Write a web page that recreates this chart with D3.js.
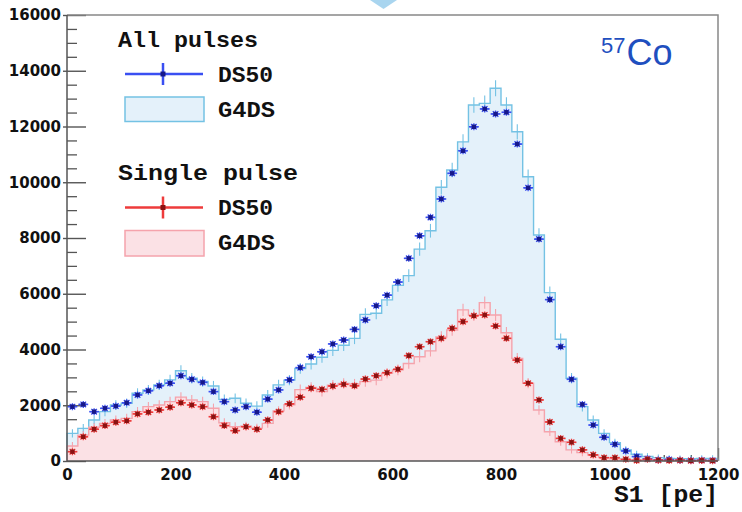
<!DOCTYPE html>
<html>
<head>
<meta charset="utf-8">
<script src="https://cdn.jsdelivr.net/npm/d3@7"></script>
<style>body{margin:0;background:#fff}</style>
</head>
<body>
<div id="chart"></div>
<script>
'use strict';

// 60 bins of 20 pe, low edges
const binLow = d3.range(0, 1200, 20);

const ds50All = [1950, 2030, 1770, 1890, 1970, 2090, 2370, 2520, 2700, 2790,
  3060, 2930, 2820, 2490, 2130, 1830, 1950, 1750, 2220, 2550,
  2910, 3350, 3740, 3920, 4200, 4340, 4720, 5060, 5570, 5950,
  6420, 7270, 8080, 8740, 9400, 10320, 11130, 11990, 12630, 12450,
  12510, 11370, 9800, 7960, 5790, 4100, 2930, 2030, 1290, 850,
  600, 360, 160, 80, 40, 50, 30, 20, 30, 20];

const g4dsAll = [990, 1170, 1470, 1770, 2010, 2070, 2430, 2550, 2730, 2910,
  3240, 2970, 2850, 2690, 2210, 2250, 2070, 1970, 2370, 2730,
  2900, 3320, 3480, 3720, 3970, 4150, 4400, 5260, 5300, 5780,
  6300, 6650, 7600, 8260, 9820, 10440, 11450, 12770, 12830, 13370,
  12770, 11810, 10200, 8110, 6040, 4370, 2970, 1950, 1470, 990,
  660, 400, 240, 160, 120, 90, 80, 80, 90, 90];

const ds50Single = [335, 870, 1140, 1270, 1390, 1440, 1690, 1750, 1830, 1930,
  2090, 2010, 1950, 1590, 1270, 1090, 1230, 1140, 1470, 1770,
  2050, 2290, 2610, 2570, 2690, 2750, 2700, 2940, 3060, 3170,
  3290, 3780, 4100, 4280, 4400, 4760, 5000, 5210, 5240, 4840,
  4400, 3620, 2790, 2190, 1400, 810, 670, 400, 220, 120,
  120, 60, 20, 60, 30, 20, 30, 10, 20, 10];

const g4dsSingle = [540, 930, 1210, 1350, 1470, 1530, 1770, 1950, 2010, 2130,
  2290, 2190, 2130, 1890, 1370, 1230, 1250, 1180, 1350, 1800,
  2020, 2560, 2640, 2490, 2720, 2780, 2760, 2850, 2900, 3150,
  3270, 3500, 3740, 3950, 4450, 4700, 5420, 5240, 5680, 5240,
  4600, 3680, 2790, 1830, 1050, 690, 400, 300, 215, 120,
  80, 50, 40, 30, 30, 25, 20, 20, 20, 20];

const xTicks = d3.range(0, 1201, 200);
const yTicks = d3.range(0, 16001, 2000);

const svg = d3.select('#chart').append('svg').attr('width', 742).attr('height', 512);

const x = d3.scaleLinear().domain([0, 1200]).range([67, 718]);
const y = d3.scaleLinear().domain([0, 16000]).range([461, 15]);

// ticks (under the histograms)
svg.append('g').attr('transform', 'translate(67,0)')
  .call(d3.axisLeft(y).tickValues(d3.range(0, 16001, 500).filter(v => v % 2000)).tickSizeInner(-10).tickSizeOuter(0).tickFormat(''))
  .call(g => g.select('.domain').remove())
  .selectAll('line').attr('stroke', '#555').attr('stroke-width', 1.3);

const yAxis = svg.append('g').attr('transform', 'translate(67,0)')
  .call(d3.axisLeft(y).tickValues(yTicks).tickFormat(d3.format('d')).tickSizeInner(-19).tickSizeOuter(0).tickPadding(6))
  .call(g => g.select('.domain').remove());
yAxis.selectAll('.tick line').attr('x1', -4).attr('stroke', '#555').attr('stroke-width', 1.4);
yAxis.selectAll('text').attr('font-family', 'DejaVu Sans').attr('font-weight', 'bold').attr('font-size', 15).attr('fill', '#111');

svg.append('g').attr('transform', 'translate(0,461)')
  .call(d3.axisBottom(x).tickValues(d3.range(0, 1201, 50).filter(v => v % 200)).tickSizeInner(-6).tickSizeOuter(0).tickFormat(''))
  .call(g => g.select('.domain').remove())
  .selectAll('line').attr('stroke', '#555').attr('stroke-width', 1.3);

const xAxis = svg.append('g').attr('transform', 'translate(0,461)')
  .call(d3.axisBottom(x).tickValues(xTicks).tickFormat(d3.format('d')).tickSizeInner(-13).tickSizeOuter(0).tickPadding(8))
  .call(g => g.select('.domain').remove());
xAxis.selectAll('.tick line').attr('stroke', '#555').attr('stroke-width', 1.4);
xAxis.selectAll('text').attr('font-family', 'DejaVu Sans').attr('font-weight', 'bold').attr('font-size', 15).attr('fill', '#111');

// histograms
function histo(values, fill, stroke) {
  const pts = values.map((v, i) => ({ lo: binLow[i], v }));
  const closed = pts.concat([{ lo: 1200, v: values[values.length - 1] }]);
  const area = d3.area().curve(d3.curveStepAfter).x(d => x(d.lo)).y0(y(0)).y1(d => y(d.v));
  const line = d3.line().curve(d3.curveStepAfter).x(d => x(d.lo)).y(d => y(d.v));
  svg.append('path').datum(closed).attr('d', area).attr('fill', fill);
  svg.append('path').datum([{ lo: 0, v: 0 }].concat(closed, [{ lo: 1200, v: 0 }]))
    .attr('d', line).attr('fill', 'none').attr('stroke', stroke).attr('stroke-width', 1.4);
  svg.append('g').selectAll('line').data(pts).join('line')
    .attr('x1', d => x(d.lo + 10)).attr('x2', d => x(d.lo + 10))
    .attr('y1', d => y(d.v + 100 + 1.6 * Math.sqrt(d.v)))
    .attr('y2', d => y(Math.max(0, d.v - 100 - 1.6 * Math.sqrt(d.v))))
    .attr('stroke', stroke).attr('stroke-width', 1.1);
}

histo(g4dsAll, '#e4f1fa', '#74c2e4');
histo(g4dsSingle, '#fbe1e5', '#f5a3ac');

// data points
function points(values, light, dark) {
  const pts = values.map((v, i) => ({ lo: binLow[i], v }));
  const g = svg.append('g');
  g.selectAll('line').data(pts).join('line')
    .attr('x1', d => x(d.lo) + 0.5).attr('x2', d => x(d.lo + 20) - 0.5)
    .attr('y1', d => y(d.v)).attr('y2', d => y(d.v))
    .attr('stroke', light).attr('stroke-width', 1.6);
  const m = g.selectAll('g').data(pts).join('g')
    .attr('transform', d => `translate(${x(d.lo + 10)},${y(d.v)})`);
  m.append('path').attr('d', 'M-4,0H4M0,-3.5V3.5M-2.8,-2.8L2.8,2.8M-2.8,2.8L2.8,-2.8')
    .attr('stroke', light).attr('stroke-width', 1.3);
  m.append('rect').attr('x', -2.2).attr('y', -2.2).attr('width', 4.4).attr('height', 4.4).attr('fill', dark);
}

points(ds50All, '#3a4ff2', '#16188a');
points(ds50Single, '#ee3b3b', '#8a1212');

// frame
svg.append('path').attr('d', `M${x(0)},${y(16000)}H${x(1200)}V${y(0)}`)
  .attr('fill', 'none').attr('stroke', '#888').attr('stroke-width', 1.5);
svg.append('path').attr('d', `M${x(0)},${y(16000)}V${y(0)}H${x(1200)}`)
  .attr('fill', 'none').attr('stroke', '#555').attr('stroke-width', 1.5);

// legend
const mono = 'Liberation Mono';
function legText(t, px, py, len) {
  svg.append('text').attr('x', px).attr('y', py).text(t)
    .attr('textLength', len).attr('lengthAdjust', 'spacingAndGlyphs')
    .attr('font-family', mono).attr('font-weight', 'bold').attr('font-size', 22).attr('fill', '#111');
}
legText('All pulses', 118, 46.5, 140);
legText('DS50', 218, 81.5, 55);
legText('G4DS', 218, 116.5, 57);
legText('Single pulse', 118, 180, 180);
legText('DS50', 218, 215, 55);
legText('G4DS', 218, 249.5, 57);

function legPoint(cy, light, dark) {
  svg.append('line').attr('x1', 125).attr('x2', 203).attr('y1', cy).attr('y2', cy).attr('stroke', light).attr('stroke-width', 2.5);
  svg.append('line').attr('x1', 163).attr('x2', 163).attr('y1', cy - 11).attr('y2', cy + 11).attr('stroke', light).attr('stroke-width', 2.5);
  svg.append('rect').attr('x', 160.5).attr('y', cy - 2.5).attr('width', 5).attr('height', 5).attr('fill', dark);
}
legPoint(74, '#3a4ff2', '#16188a');
legPoint(207.5, '#ee3b3b', '#8a1212');

svg.append('rect').attr('x', 125).attr('y', 97).attr('width', 79).attr('height', 24.5)
  .attr('fill', '#e4f1fa').attr('stroke', '#74c2e4').attr('stroke-width', 1.5);
svg.append('rect').attr('x', 125).attr('y', 230.5).attr('width', 79).attr('height', 25.5)
  .attr('fill', '#fbe1e5').attr('stroke', '#f5a3ac').attr('stroke-width', 1.5);

// axis title
svg.append('text').attr('x', 614).attr('y', 502).text('S1 [pe]')
  .attr('textLength', 104).attr('lengthAdjust', 'spacingAndGlyphs')
  .attr('font-family', mono).attr('font-weight', 'bold').attr('font-size', 23).attr('fill', '#111');

// isotope label
const iso = svg.append('text').attr('x', 601).attr('y', 65)
  .attr('font-family', 'Liberation Sans').attr('fill', '#1f4fbf');
iso.append('tspan').text('57').attr('font-size', 22).attr('dy', -12);
iso.append('tspan').text('Co').attr('font-size', 36).attr('dy', 12).attr('dx', 1);

// slide arrow tip at top
svg.append('path').attr('d', 'M370,0H397L383.5,9Z').attr('fill', '#a9d5ef');
</script>
</body>
</html>
